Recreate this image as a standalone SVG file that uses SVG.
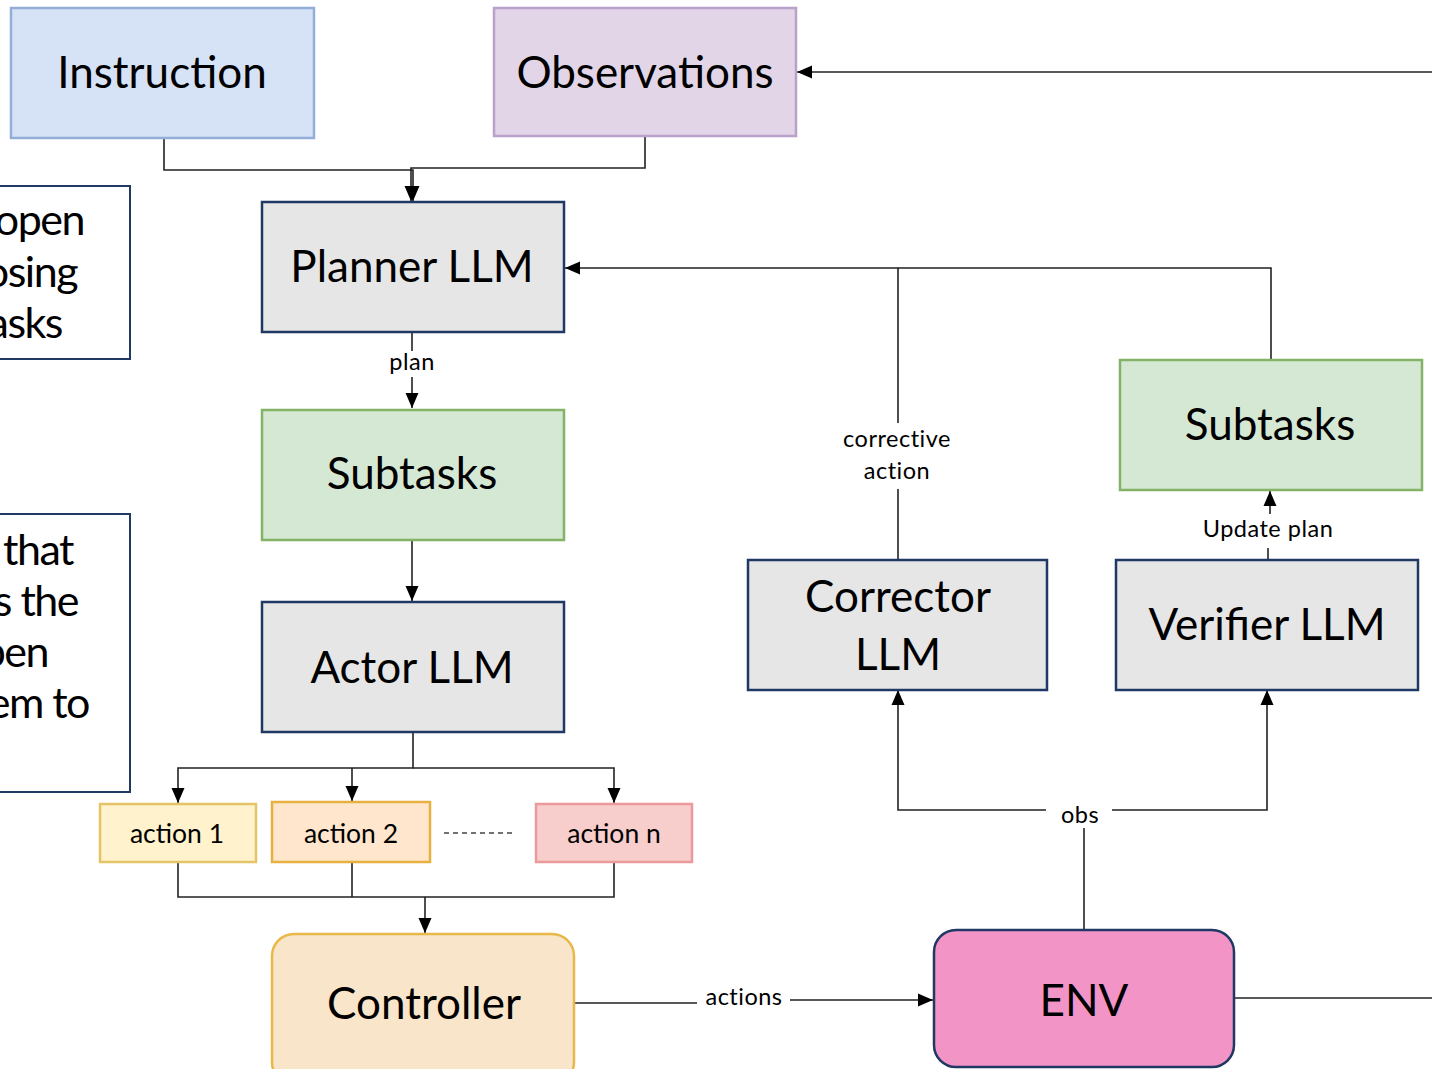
<svg xmlns="http://www.w3.org/2000/svg" width="1432" height="1069" viewBox="0 0 1432 1069">
<style>
  text { font-family: Lato, "Liberation Sans", sans-serif; fill: #000; }
  .big { font-size: 44px; text-anchor: middle; }
  .left { font-size: 43px; text-anchor: end; letter-spacing: -1.5px; }
  .act { font-size: 26.5px; text-anchor: middle; }
  .lbl { font-size: 23.5px; text-anchor: middle; letter-spacing: 0.5px; }
  .gray { fill: #e6e6e6; stroke: #1f3864; stroke-width: 2.5; }
  .green { fill: #d5e8d4; stroke: #82b366; stroke-width: 2.5; }
  .side { fill: #ffffff; stroke: #1f3864; stroke-width: 2; }
  .conn path { fill: none; stroke: #222; stroke-width: 1.6; }
</style>
<defs>
  <marker id="arr" markerUnits="userSpaceOnUse" markerWidth="16" markerHeight="16" refX="15" refY="8" orient="auto">
    <path d="M0,1.5 L15,8 L0,14.5 Z" fill="#000"/>
  </marker>
</defs>
<rect x="0" y="0" width="1432" height="1069" fill="#ffffff"/>

<g id="side-note-1">
  <rect class="side" x="-10" y="186" width="140" height="173"/>
  <text class="left" x="84" y="235">open</text>
  <text class="left" x="77" y="287">osing</text>
  <text class="left" x="62" y="338">asks</text>
</g>
<g id="side-note-2">
  <rect class="side" x="-10" y="514" width="140" height="278"/>
  <text class="left" x="73" y="565">that</text>
  <text class="left" x="78" y="616">s the</text>
  <text class="left" x="48" y="667">pen</text>
  <text class="left" x="89" y="718">em to</text>
</g>

<g class="conn" id="connectors">
  <path d="M164,138 V170 H413 V201" marker-end="url(#arr)"/>
  <path d="M645,136 V168 H411 V201" marker-end="url(#arr)"/>
  <path d="M1432,72 H797" marker-end="url(#arr)"/>
  <path d="M412,333 V351 M412,377 V408" marker-end="url(#arr)"/>
  <path d="M412,540 V601" marker-end="url(#arr)"/>
  <path d="M413,732 V768 H178 V803" marker-end="url(#arr)"/>
  <path d="M413,768 H614 V803" marker-end="url(#arr)"/>
  <path d="M352,768 V801" marker-end="url(#arr)"/>
  <path d="M178,862 V897 H614 V862"/>
  <path d="M352,862 V897"/>
  <path d="M425,897 V933" marker-end="url(#arr)"/>
  <path d="M444,833 H516" stroke-dasharray="5,4" style="stroke:#444;stroke-width:1.3"/>
  <path d="M574,1003 H697 M790,1000 H933" marker-end="url(#arr)"/>
  <path d="M1234,998 H1432"/>
  <path d="M1084,930 V828"/>
  <path d="M1046,810 H898 V690" marker-end="url(#arr)"/>
  <path d="M1112,810 H1267 V690" marker-end="url(#arr)"/>
  <path d="M898,560 V489 M898,423 V268 H565" marker-end="url(#arr)"/>
  <path d="M1271,360 V268 H898"/>
  <path d="M1268,560 V548 M1270,514 V491" marker-end="url(#arr)"/>
  <text class="lbl" x="412" y="370">plan</text>
  <text class="lbl" x="744" y="1005">actions</text>
  <text class="lbl" x="1080" y="823">obs</text>
  <text class="lbl" x="897" y="447">corrective</text>
  <text class="lbl" x="897" y="479">action</text>
  <text class="lbl" x="1268" y="537">Update plan</text>
</g>

<g id="instruction">
  <rect x="11" y="8" width="303" height="130" fill="#d6e2f6" stroke="#93aed8" stroke-width="2.5"/>
  <text class="big" x="162" y="88">Instruction</text>
</g>
<g id="observations">
  <rect x="494" y="8" width="302" height="128" fill="#e1d5e7" stroke="#b9a1cb" stroke-width="2.5"/>
  <text class="big" x="645" y="88">Observations</text>
</g>
<g id="planner">
  <rect class="gray" x="262" y="202" width="302" height="130"/>
  <text class="big" x="412" y="282">Planner LLM</text>
</g>
<g id="subtasks-left">
  <rect class="green" x="262" y="410" width="302" height="130"/>
  <text class="big" x="412" y="489">Subtasks</text>
</g>
<g id="actor">
  <rect class="gray" x="262" y="602" width="302" height="130"/>
  <text class="big" x="412" y="683">Actor LLM</text>
</g>
<g id="action1">
  <rect x="100" y="804" width="156" height="58" fill="#fff2cc" stroke="#e3c466" stroke-width="2.5"/>
  <text class="act" x="177" y="843">action 1</text>
</g>
<g id="action2">
  <rect x="272" y="802" width="158" height="60" fill="#ffe6cc" stroke="#e8b040" stroke-width="2.5"/>
  <text class="act" x="351" y="843">action 2</text>
</g>
<g id="actionn">
  <rect x="536" y="804" width="156" height="58" fill="#f8cecc" stroke="#ea9a9a" stroke-width="2.5"/>
  <text class="act" x="614" y="843">action n</text>
</g>
<g id="controller">
  <rect x="272" y="934" width="302" height="150" rx="22" fill="#f9e5c9" stroke="#e8b84a" stroke-width="2.5"/>
  <text class="big" x="424" y="1019">Controller</text>
</g>
<g id="env">
  <rect x="934" y="930" width="300" height="137" rx="22" fill="#f394c7" stroke="#1f3864" stroke-width="2.5"/>
  <text class="big" x="1084" y="1016">ENV</text>
</g>
<g id="corrector">
  <rect class="gray" x="748" y="560" width="299" height="130"/>
  <text class="big" x="898" y="612">Corrector</text>
  <text class="big" x="898" y="670">LLM</text>
</g>
<g id="verifier">
  <rect class="gray" x="1116" y="560" width="302" height="130"/>
  <text class="big" x="1267" y="640">Verifier LLM</text>
</g>
<g id="subtasks-right">
  <rect class="green" x="1120" y="360" width="302" height="130"/>
  <text class="big" x="1270" y="440">Subtasks</text>
</g>
</svg>
